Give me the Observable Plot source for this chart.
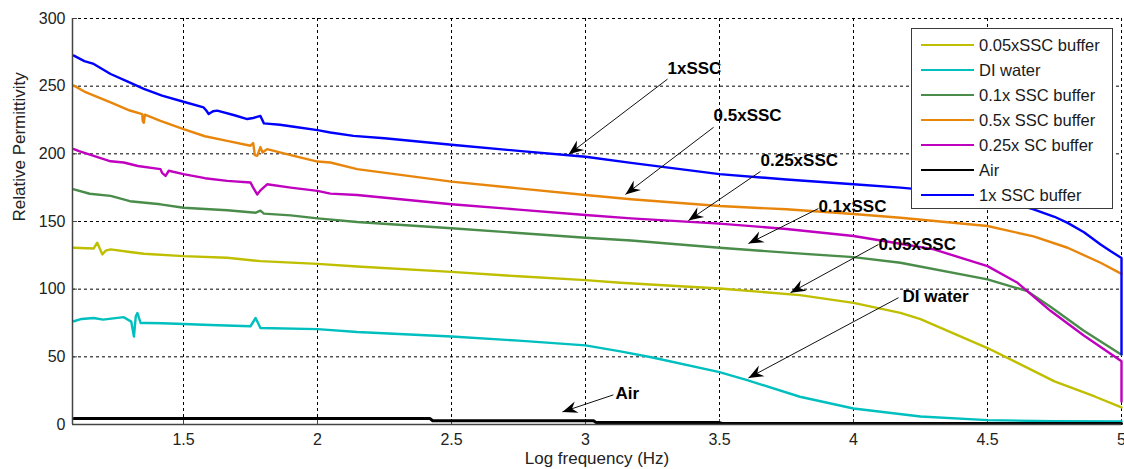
<!DOCTYPE html>
<html><head><meta charset="utf-8">
<script src="https://cdn.jsdelivr.net/npm/d3@7"></script>
<script src="https://cdn.jsdelivr.net/npm/@observablehq/plot@0.6"></script>
<style>
body{margin:0;background:#fff;}
#wrap{position:relative;width:1124px;height:469px;overflow:hidden;font-family:Arial,"Liberation Sans",sans-serif;}
#wrap svg{display:block;}
#legend{position:absolute;left:911px;top:28px;width:200px;height:179px;border:1px solid #3a3a3a;background:#fff;}
.row{position:absolute;left:0;height:25px;display:flex;align-items:center;font-size:16.5px;color:#1a1a1a;white-space:nowrap;}
.sw{width:53px;height:2.5px;margin-left:9px;margin-right:5px;}
</style></head><body><div id="wrap"></div>
<script>
// ---- data ----
const xTicks = [1.5, 2, 2.5, 3, 3.5, 4, 4.5, 5];
const yTicks = [0, 50, 100, 150, 200, 250, 300];
const xDomain = [1.0858, 5];
const yDomain = [0, 300];

const seriesNames = ["0.05xSSC buffer", "DI water", "0.1x SSC buffer", "0.5x SSC buffer", "0.25x SC buffer", "Air", "1x SSC buffer"];
const seriesColors = ["#bfbf00", "#00bfbf", "#4a8c4a", "#e8860c", "#bf00bf", "#000000", "#0000ff"];

const ssc005 = [[1.091,130.6],[1.165,130.1],[1.178,134.3],[1.19,129],[1.197,125.7],[1.21,128.5],[1.228,129.4],[1.3,127.5],[1.352,126.2],[1.5,124.4],[1.663,123.2],[1.787,120.7],[2.0,118.7],[2.148,116.8],[2.5,112.8],[2.75,109.5],[3.0,106.7],[3.13,104.7],[3.5,100.5],[3.8,95.6],[4.0,89.9],[4.175,82.5],[4.25,77.8],[4.5,56.5],[4.75,31.9],[4.9,20.7],[5.0,12.6]];
const diWater = [[1.091,76.3],[1.12,78],[1.165,78.7],[1.2,77.5],[1.277,79.3],[1.305,76],[1.315,65],[1.322,80],[1.328,82.4],[1.34,75],[1.365,75],[1.42,74.8],[1.5,74.3],[1.6,73.5],[1.75,72.6],[1.769,78.7],[1.787,71.3],[2.0,70.5],[2.148,68.4],[2.5,65],[2.75,62],[3.0,58.5],[3.13,54],[3.25,49.5],[3.5,38.7],[3.6,33],[3.8,20.5],[4.0,11.8],[4.25,5.9],[4.5,3.2],[4.75,2.4],[5.0,2.2]];
const ssc01 = [[1.091,173.8],[1.15,170.5],[1.228,168.9],[1.3,165],[1.414,162.7],[1.5,160.2],[1.663,158.3],[1.77,156.5],[1.787,158],[1.8,155.8],[1.9,154.5],[2.0,152.3],[2.148,149.6],[2.5,145],[2.75,141.5],[3.0,138],[3.17,136],[3.5,130.6],[3.75,127],[4.0,123.7],[4.175,119.5],[4.5,107.2],[4.649,98.5],[4.735,87],[4.858,69.5],[5.0,51.6]];
const ssc05 = [[1.091,250.4],[1.13,246],[1.228,238],[1.3,232],[1.346,229.4],[1.348,224],[1.352,223],[1.356,229],[1.414,224.4],[1.5,218.3],[1.58,213],[1.663,209.6],[1.75,206],[1.76,208],[1.766,199],[1.775,198.5],[1.787,205],[1.795,201],[1.812,203.5],[1.9,199],[2.0,194.3],[2.048,193.6],[2.148,188.7],[2.5,179.5],[2.75,174.5],[3.0,169.6],[3.17,166.4],[3.5,161.5],[3.75,159],[4.0,155.5],[4.175,152.8],[4.5,146.7],[4.672,139],[4.799,130.6],[4.922,119.5],[5.0,111.3]];
const ssc025 = [[1.091,203.5],[1.11,202],[1.165,198.5],[1.228,194.5],[1.277,193.6],[1.33,191],[1.414,188.7],[1.42,186],[1.433,183.7],[1.445,187.5],[1.5,185],[1.58,182],[1.663,180],[1.75,178.8],[1.76,175],[1.775,170],[1.787,173],[1.812,177.5],[1.9,175],[2.0,172.6],[2.048,170.6],[2.148,169.6],[2.5,162.7],[2.75,158.8],[3.0,154.8],[3.17,152.3],[3.5,148.4],[3.75,144.5],[4.0,139.3],[4.175,133.6],[4.3,129.4],[4.5,117],[4.612,104.7],[4.735,84],[4.858,66],[5.0,46.7],[5.0,17]];
const air = [[1.091,4.4],[2.42,4.4],[2.43,2.8],[3.03,2.8],[3.04,1.4],[3.5,1.4],[3.51,0.8],[5.0,0.8]];
const ssc1 = [[1.091,272.6],[1.13,268.5],[1.165,266.4],[1.228,259],[1.29,253.5],[1.352,248],[1.42,243],[1.5,238.5],[1.575,234.3],[1.585,232],[1.594,229.4],[1.61,231.5],[1.626,231.9],[1.69,228.5],[1.738,225.7],[1.76,226.5],[1.787,228],[1.8,222.5],[1.86,221.5],[1.912,220],[2.0,217.5],[2.048,215.8],[2.134,213.3],[2.25,211.5],[2.5,206.7],[2.75,202.2],[3.0,197.8],[3.17,193.3],[3.5,185],[3.75,181],[4.0,177.5],[4.175,175],[4.4,171],[4.55,166],[4.672,159],[4.75,153.5],[4.799,149],[4.86,142],[4.922,133],[4.96,128],[5.0,123],[5.0,52]];
const seriesData = [ssc005, diWater, ssc01, ssc05, ssc025, air, ssc1];

const annLabels = ["1xSSC", "0.5xSSC", "0.25xSSC", "0.1xSSC", "0.05xSSC", "DI water", "Air"];
const annFromX = [3.306, 3.478, 3.653, 3.869, 4.093, 4.168, 3.104];
const annFromY = [255.2, 219.6, 187, 159.6, 133, 93.7, 21.9];
const annToX = [2.937, 3.149, 3.384, 3.608, 3.765, 3.608, 2.914];
const annToY = [199.6, 170, 150.7, 133.7, 97.4, 34.4, 9.3];
const annTextX = [3.306, 3.478, 3.653, 3.869, 4.093, 4.183, 3.112];
const annTextY = [263, 228.1, 194.8, 160.7, 133.3, 94.8, 22.6];

// ---- chart ----
const W = 1124, H = 469, ML = 72, MR = 3, MT = 18, MB = 45;
const plotW = W - ML - MR, plotH = H - MT - MB;

function headSymbol(angle) {
  const L = 15, Wd = 6, N = 10;
  const c = Math.cos(angle), s = Math.sin(angle);
  const pts = [[0,0],[-L,-Wd],[-N,0],[-L,Wd]].map(([a,b]) => [a*c - b*s, a*s + b*c]);
  return {draw(ctx) {
    ctx.moveTo(pts[0][0], pts[0][1]);
    for (let k = 1; k < pts.length; k++) ctx.lineTo(pts[k][0], pts[k][1]);
    ctx.closePath();
  }};
}

function build(heads) {
  return Plot.plot({
    width: W, height: H, marginLeft: ML, marginRight: MR, marginTop: MT, marginBottom: MB,
    style: {fontFamily: "Arial, 'Liberation Sans', sans-serif", fontSize: "16px", color: "#222", background: "transparent"},
    x: {domain: xDomain, ticks: xTicks, tickFormat: d => String(d), tickSize: 0, tickPadding: 9, label: null},
    y: {domain: yDomain, ticks: yTicks, tickSize: 0, tickPadding: 7, label: null},
    marks: [
      Plot.ruleX(xTicks, {stroke: "#000", strokeWidth: 1, strokeDasharray: "3,3"}),
      Plot.ruleY(yTicks, {stroke: "#000", strokeWidth: 1, strokeDasharray: "3,3"}),
      Plot.tickY(yTicks, {y: d => d, stroke: "#444", insetRight: plotW - 5}),
      Plot.tickX(xTicks, {x: d => d, stroke: "#444", insetTop: plotH - 5}),
      ...seriesData.map((pts, i) => Plot.line(pts, {x: d => d[0], y: d => d[1], stroke: seriesColors[i], strokeWidth: seriesNames[i] === "Air" ? 3 : 2.4})),
      Plot.ruleX([xDomain[0]], {stroke: "#444", strokeWidth: 1.5}),
      Plot.ruleY([yDomain[0]], {stroke: "#444", strokeWidth: 1.5}),
      Plot.link(annLabels, {x1: (d,i) => annFromX[i], y1: (d,i) => annFromY[i], x2: (d,i) => annToX[i], y2: (d,i) => annToY[i], stroke: "#111", strokeWidth: 1}),
      ...heads,
      Plot.text(annLabels, {x: (d,i) => annTextX[i], y: (d,i) => annTextY[i], text: d => d, textAnchor: "start", fontWeight: "bold", fontSize: 17, fill: "#000"}),
      Plot.text(["Log frequency (Hz)"], {frameAnchor: "bottom", dy: 39, text: d => d, fontSize: 17, fill: "#222"}),
      Plot.text(["Relative Permittivity"], {frameAnchor: "left", dx: -53, rotate: -90, text: d => d, fontSize: 17, fill: "#222"})
    ]
  });
}

const p0 = build([]);
const sx = p0.scale("x"), sy = p0.scale("y");
const heads = annLabels.map((d, i) => {
  const ang = Math.atan2(sy.apply(annToY[i]) - sy.apply(annFromY[i]), sx.apply(annToX[i]) - sx.apply(annFromX[i]));
  return Plot.dot([i], {x: j => annToX[j], y: j => annToY[j], symbol: headSymbol(ang), fill: "#000", stroke: "none"});
});
const chart = build(heads);
const wrap = document.getElementById("wrap");
wrap.append(chart);

// legend
const leg = document.createElement("div");
leg.id = "legend";
seriesNames.forEach((n, i) => {
  const r = document.createElement("div");
  r.className = "row";
  r.style.top = (3.5 + 25 * i) + "px";
  const sw = document.createElement("span");
  sw.className = "sw";
  sw.style.background = seriesColors[i];
  const t = document.createElement("span");
  t.textContent = n;
  r.append(sw, t);
  leg.append(r);
});
wrap.append(leg);
</script></body></html>
